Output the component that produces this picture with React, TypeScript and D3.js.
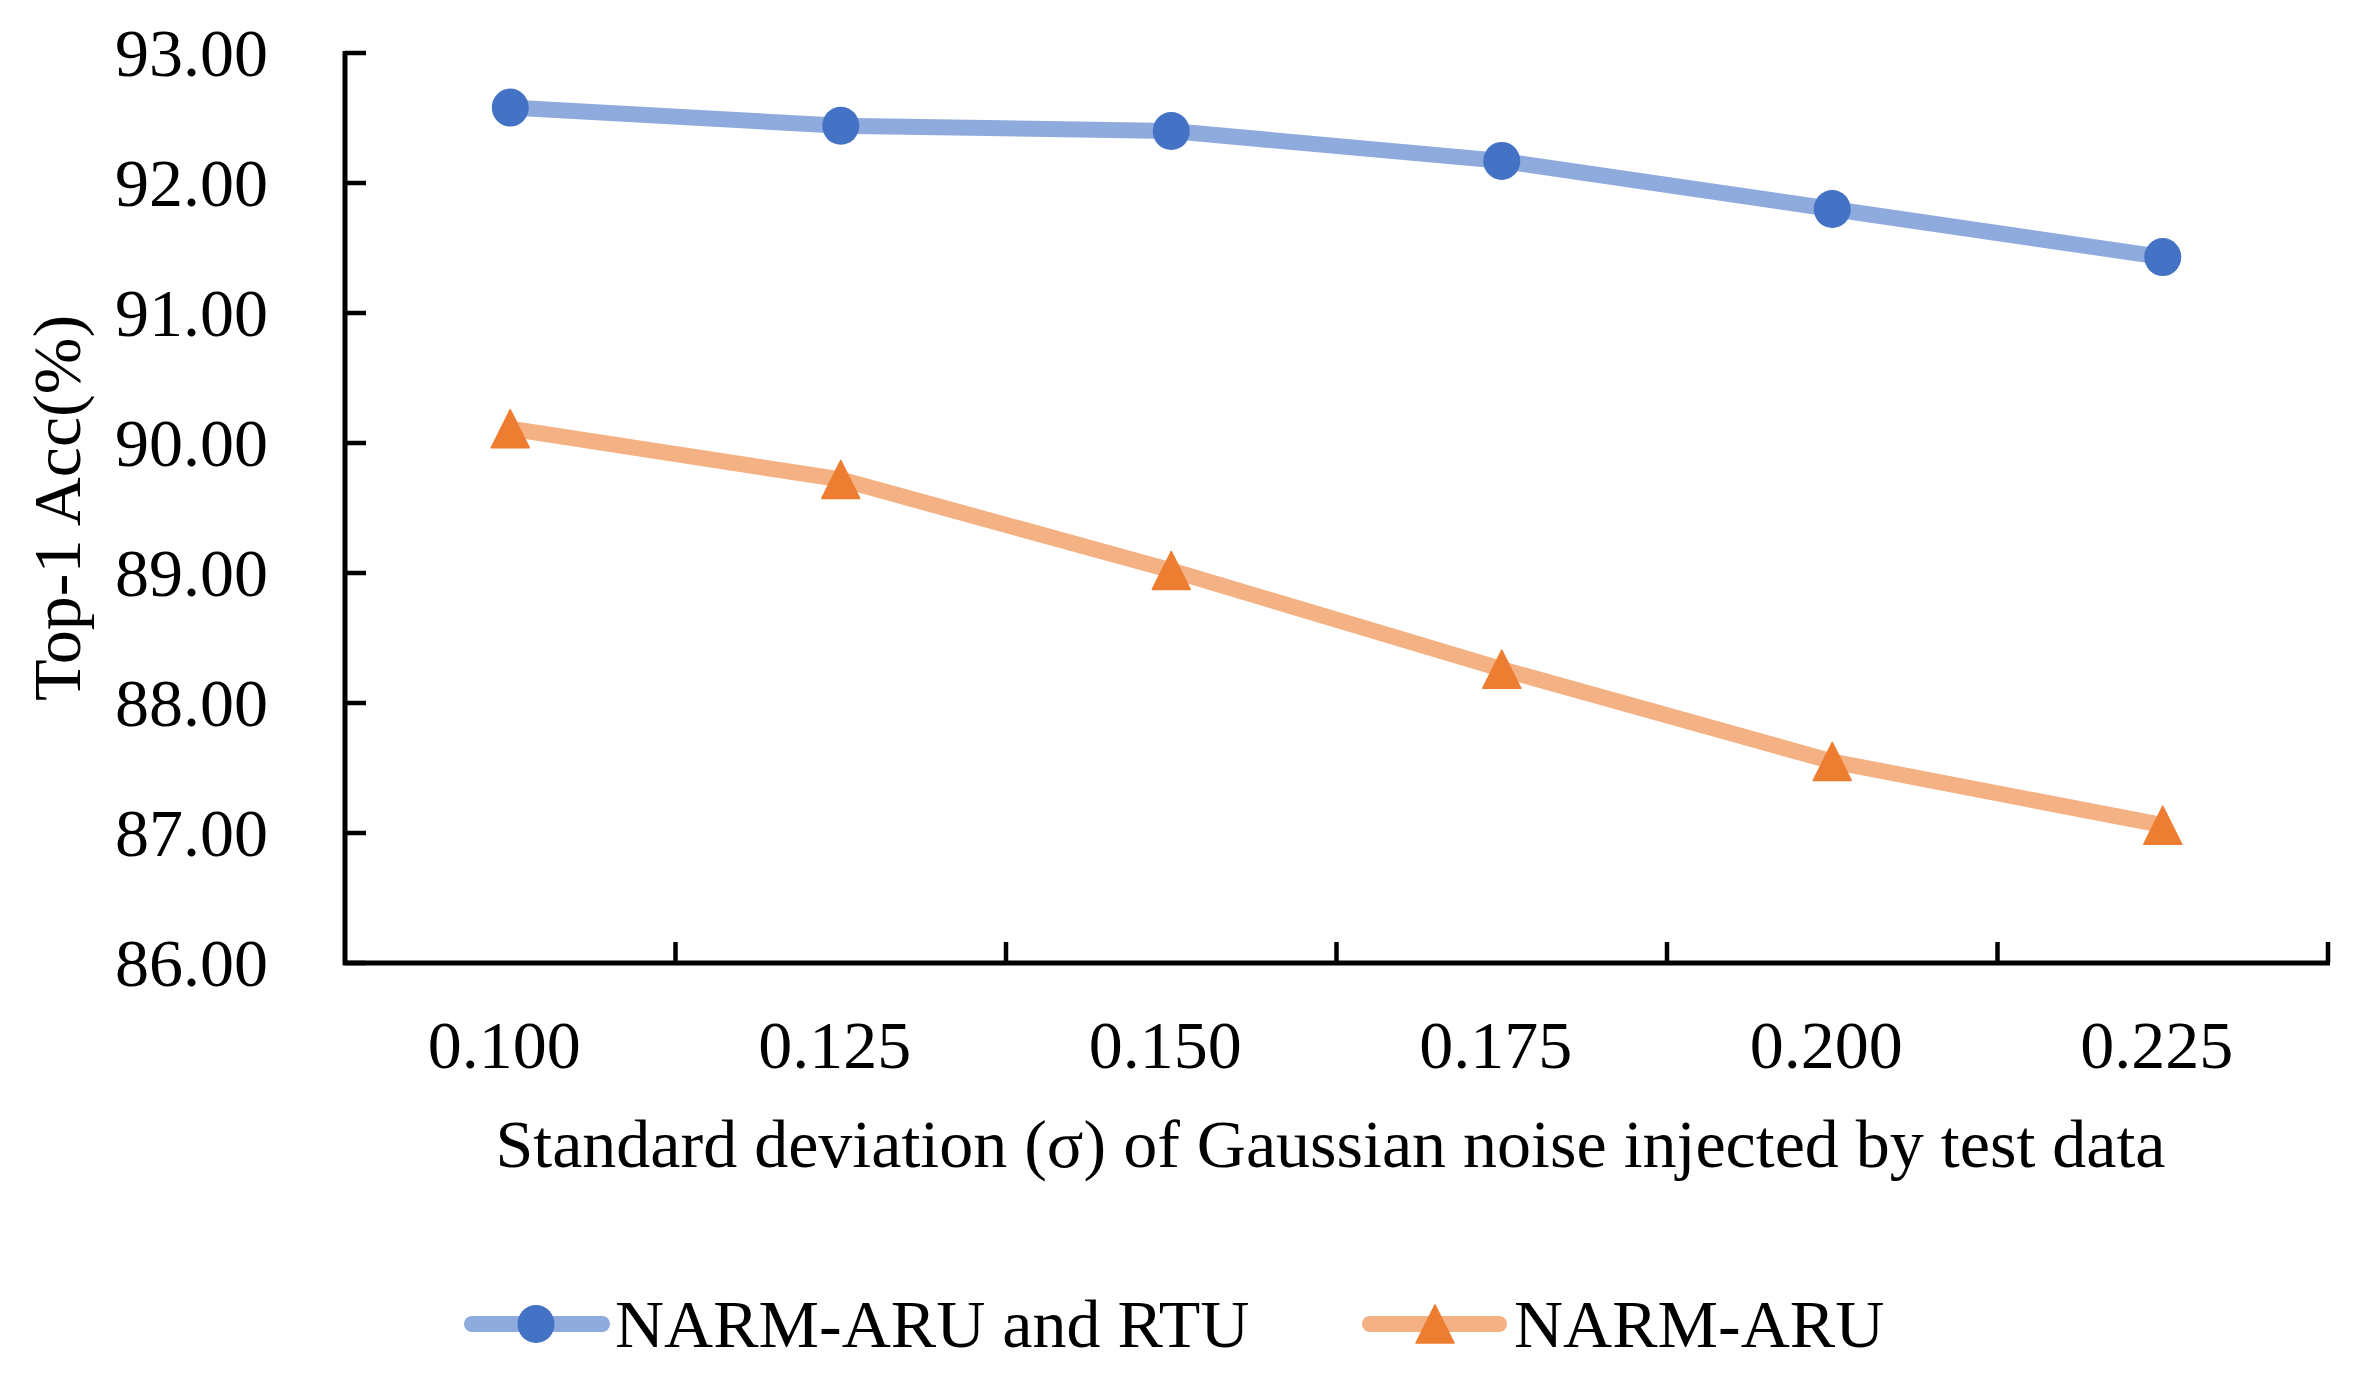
import React from "react";
import * as d3 from "d3";

const categories = ["0.100", "0.125", "0.150", "0.175", "0.200", "0.225"];
const seriesNames = ["NARM-ARU and RTU", "NARM-ARU"];
const withRtu = [92.58, 92.44, 92.4, 92.17, 91.8, 91.43];
const aruOnly = [90.11, 89.72, 89.02, 88.26, 87.55, 87.06];
const yTicks = [86, 87, 88, 89, 90, 91, 92, 93];

const W = 2357;
const H = 1384;
const left = 345;
const right = 2328;
const top = 53;
const bottom = 963;
const FONT = "'Liberation Serif', 'Times New Roman', serif";

const blue = { line: "#8FAADC", mark: "#4472C4" };
const orange = { line: "#F4B183", mark: "#ED7D31" };

export default function App() {
  const x = d3.scaleBand<string>().domain(categories).range([left, right]);
  const y = d3.scaleLinear().domain([86, 93]).range([bottom, top]);
  const cx = (c: string) => (x(c) ?? 0) + x.bandwidth() / 2;

  const line = d3
    .line<number>()
    .x((_, i) => cx(categories[i]))
    .y((d) => y(d));

  // equilateral triangle, stretched a little so it is as tall as it is wide
  const tri = d3.symbol().type(d3.symbolTriangle).size(700)();

  const series = [
    { name: seriesNames[0], values: withRtu, color: blue, shape: "circle" },
    { name: seriesNames[1], values: aruOnly, color: orange, shape: "triangle" },
  ];

  const marker = (shape: string, px: number, py: number, fill: string, key: string) =>
    shape === "circle" ? (
      <ellipse key={key} cx={px} cy={py} rx={18.5} ry={19} fill={fill} />
    ) : (
      <path
        key={key}
        d={tri ?? ""}
        transform={`translate(${px},${py + 6.3}) scale(0.945,1.09)`}
        fill={fill}
        stroke={fill}
        strokeWidth={1.5}
        strokeLinejoin="round"
      />
    );

  const legendItems = [
    { x0: 464, x1: 610, mx: 536, tx: 615 },
    { x0: 1362, x1: 1507, mx: 1435, tx: 1514 },
  ];
  const legendY = 1324;

  return (
    <svg
      width={W}
      height={H}
      style={{ position: "absolute", left: 0, top: 0, background: "#fff" }}
      fontFamily={FONT}
    >
      {/* y axis */}
      <line x1={left} x2={left} y1={top - 2} y2={bottom + 2} stroke="#000" strokeWidth={5} />
      {yTicks.map((t) => (
        <g key={t}>
          <line x1={left} x2={left + 21} y1={y(t)} y2={y(t)} stroke="#000" strokeWidth={4.5} />
          <text x={268} y={y(t) + 23} textAnchor="end" fontSize={68}>
            {t.toFixed(2)}
          </text>
        </g>
      ))}
      {/* x axis */}
      <line x1={left - 2} x2={right + 2} y1={bottom} y2={bottom} stroke="#000" strokeWidth={5} />
      {categories.map((c) => (
        <g key={c}>
          <line
            x1={(x(c) ?? 0) + x.bandwidth()}
            x2={(x(c) ?? 0) + x.bandwidth()}
            y1={bottom}
            y2={bottom - 21}
            stroke="#000"
            strokeWidth={4.5}
          />
          <text x={cx(c) - 6} y={1068} textAnchor="middle" fontSize={68}>
            {c}
          </text>
        </g>
      ))}

      <text x={(left + right) / 2 - 6} y={1167} textAnchor="middle" fontSize={68}>
        Standard deviation (σ) of Gaussian noise injected by test data
      </text>
      <text
        transform={`translate(80,${(top + bottom) / 2}) rotate(-90)`}
        textAnchor="middle"
        fontSize={68}
      >
        Top-1 Acc(%)
      </text>

      {series.map((s) => (
        <g key={s.name}>
          <path
            d={line(s.values) ?? ""}
            fill="none"
            stroke={s.color.line}
            strokeWidth={16}
            strokeLinejoin="round"
            strokeLinecap="round"
          />
          {s.values.map((v, i) =>
            marker(s.shape, cx(categories[i]), y(v), s.color.mark, `${s.name}-${i}`)
          )}
        </g>
      ))}

      {series.map((s, i) => {
        const l = legendItems[i];
        return (
          <g key={`lg-${s.name}`}>
            <line
              x1={l.x0 + 8}
              x2={l.x1 - 8}
              y1={legendY}
              y2={legendY}
              stroke={s.color.line}
              strokeWidth={16}
              strokeLinecap="round"
            />
            {marker(s.shape, l.mx, legendY, s.color.mark, `lgm-${i}`)}
            <text x={l.tx} y={1347} fontSize={68}>
              {s.name}
            </text>
          </g>
        );
      })}
    </svg>
  );
}
